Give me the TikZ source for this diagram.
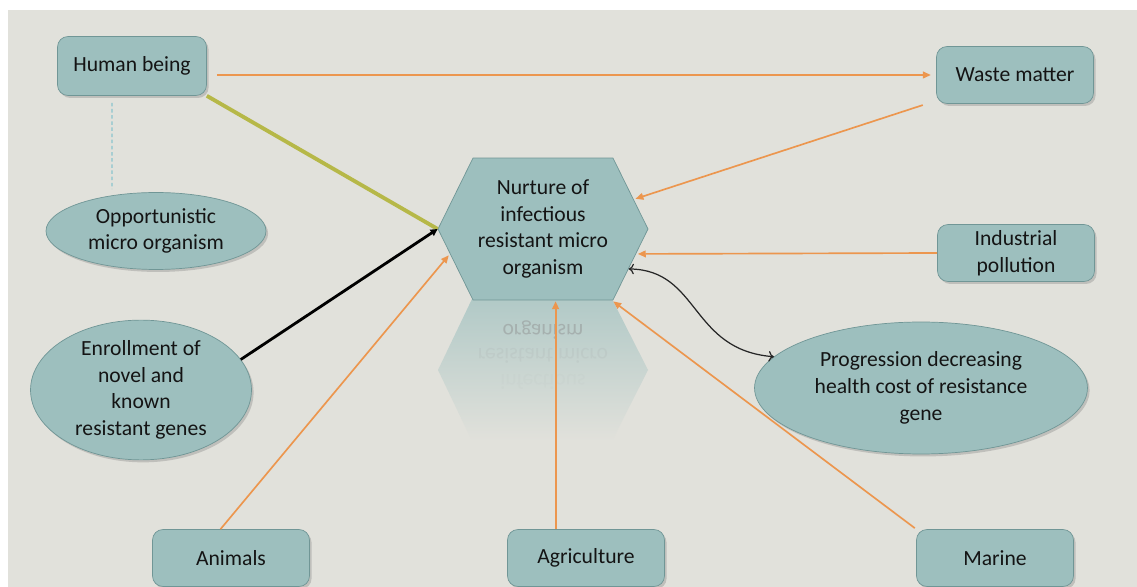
\documentclass[tikz,border=0pt]{standalone}
\usepackage{fontspec}
\setmainfont{Carlito}
\usetikzlibrary{shapes.geometric,shapes.symbols,shadows,arrows.meta}

\definecolor{bgcol}{RGB}{225,225,219}
\definecolor{cellfill}{RGB}{157,191,190}
\definecolor{celledge}{RGB}{112,150,150}
\definecolor{feedorange}{RGB}{236,150,78}
\definecolor{olivegreen}{RGB}{182,184,72}
\definecolor{dashblue}{RGB}{138,196,206}
\definecolor{inktext}{RGB}{20,20,20}

\begin{document}
\begin{tikzpicture}[x=0.02cm, y=-0.02cm, font=\fontsize{12.3}{15.2}\selectfont, text=inktext,
    box/.style = {draw=celledge, fill=cellfill, rounded corners=6pt, minimum width=3.14cm, minimum height=1.14cm, align=center, drop shadow={shadow xshift=1.2pt, shadow yshift=-1.4pt, opacity=0.35}},
    oval/.style = {draw=celledge, fill=cellfill, ellipse, inner sep=0pt, align=center, drop shadow={shadow xshift=1.2pt, shadow yshift=-1.4pt, opacity=0.35}},
    hexa/.style = {signal, signal to=west and east, signal pointer angle=127.5, draw=celledge, fill=cellfill, minimum width=4.2cm, minimum height=2.84cm, inner sep=1pt, align=center},
    mirror/.style = {text=black!45},
    feed/.style = {draw=feedorange, line width=0.95pt, -{Triangle[length=4.5pt,width=3.8pt]}},
    push/.style = {draw=black, line width=1.6pt, -{Triangle[length=4pt,width=4pt]}},
    blend/.style = {draw=olivegreen, line width=2.2pt},
    loop/.style = {draw=black!85, line width=0.7pt, {To[length=3pt,width=6pt]}-{To[length=3pt,width=6pt]}},
    link/.style = {draw=dashblue, line width=0.6pt, dash pattern=on 2pt off 1.5pt}]
    \useasboundingbox (0,0) rectangle (1137,587);
    \fill[white] (0,0) rectangle (1137,587);
    \fill[bgcol] (8,10) rectangle (1137,587);

    \shade[top color=cellfill!70!bgcol, middle color=bgcol, bottom color=bgcol] (472,299) -- (612,299) -- (648,370) -- (612,441) -- (472,441) -- (438,370) -- cycle;
    \node[mirror, opacity=0.45] (refl1) at (543,330) {\scalebox{1}[-1]{organism}};
    \node[mirror, opacity=0.1] (refl2) at (543,356) {\scalebox{1}[-1]{resistant micro}};
    \node[mirror, opacity=0.04] (refl3) at (543,382) {\scalebox{1}[-1]{infectious}};

    \node[box, minimum width=2.98cm, minimum height=1.18cm] (human) at (132,66) {Human being};
    \node[box] (waste) at (1015,75) {Waste matter};
    \node[box] (indus) at (1016,253) {Industrial\\pollution};
    \node[box] (animals) at (231,558) {Animals};
    \node[box] (agri) at (586,558) {Agriculture};
    \node[box] (marine) at (995,558) {Marine};
    \node[oval, minimum width=4.4cm, minimum height=1.54cm] (opp) at (156,231) {Opportunistic\\micro organism};
    \node[oval, minimum width=4.42cm, minimum height=2.78cm] (enroll) at (141,390) {Enrollment of\\novel and\\known\\resistant genes};
    \node[oval, minimum width=6.66cm, minimum height=2.64cm] (prog) at (921,388) {Progression decreasing\\health cost of resistance\\gene};
    \node[hexa] (hex) at (543,229) {Nurture of\\infectious\\resistant micro\\organism};

    \draw[link] ([xshift=-0.4cm,yshift=-0.14cm]human.south) -- ([xshift=-0.88cm,yshift=0.06cm]opp.north);
    \draw[blend] (human.south east) -- (hex.west);
    \draw[push] (enroll.17) -- (hex.west);
    \draw[feed, shorten <=5.7pt, shorten >=3pt] (human.east |- waste.west) -- (waste.west);
    \draw[feed, shorten <=8pt, shorten >=1pt] (waste) -- (hex);
    \draw[feed, shorten >=1pt] (indus.west) -- (hex.-15);
    \draw[feed, shorten >=1pt] (animals.110) -- (hex.195);
    \draw[feed, shorten <=1pt, shorten >=1pt] (marine.north west) -- (hex.-46);
    \draw[feed, line width=1.2pt, shorten >=0.5pt] (agri.north -| hex.-80) -- (hex.-80);
    \draw[loop] (hex.-25) .. controls (700,270) and (690,350) .. (prog.168);
\end{tikzpicture}
\end{document}
